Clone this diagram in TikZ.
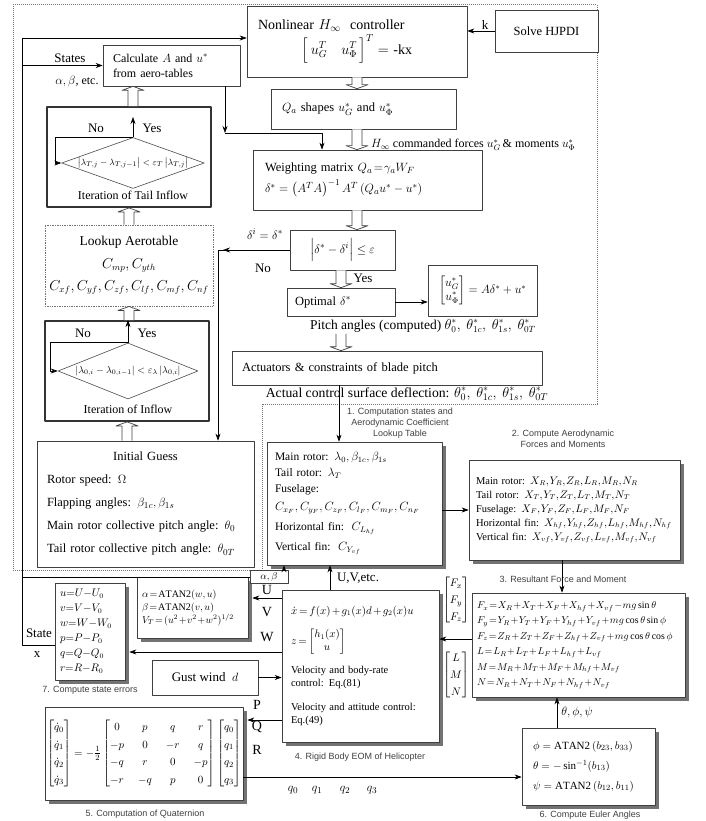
\documentclass[tikz,border=0pt]{standalone}
\usepackage{amsmath,amssymb}
\usepackage{fontspec}
\setmainfont{Liberation Serif}
\setsansfont{Liberation Sans}
\usepackage{tikz}
\usetikzlibrary{arrows.meta,calc,shapes.geometric,shadows}

\begin{document}
\begin{tikzpicture}[x=1pt,y=-1pt,>={Stealth[length=7pt,width=5pt]},line join=round,
  box/.style={draw=black!75,line width=0.7pt,fill=white,inner sep=0pt,font=\fontsize{12.5}{15}\selectfont},
  shbox/.style={box,drop shadow={shadow xshift=3.5pt,shadow yshift=-3.5pt,fill=black!55,opacity=1}},
  loopbox/.style={draw=black!80,line width=1.8pt,minimum width=164pt,minimum height=100pt},
  dia/.style={diamond,draw=black!70,line width=0.6pt,aspect=2.8,inner sep=0pt,font=\fontsize{9.5}{11}\selectfont},
  tag/.style={font=\sffamily\fontsize{9}{11}\selectfont,align=center,text=black!75,inner sep=1pt},
  lbl/.style={inner sep=1pt,font=\fontsize{13}{15}\selectfont},
  arr/.style={->,line width=0.6pt},
  holl/.style={line width=0.7pt,draw=black!75,fill=white,to path={let \p1=(\tikztostart),\p2=(\tikztotarget) in
    (\x1-5pt,\y1) -- (\x1-5pt,\y2 #1 4pt) -- (\x1-11pt,\y2 #1 4pt) -- (\x1,\y2) -- (\x1+11pt,\y2 #1 4pt) -- (\x1+5pt,\y2 #1 4pt) -- (\x1+5pt,\y1)}}]
  \useasboundingbox (0,0) rectangle (705,821);
  \draw[draw=black!55,densely dotted,line width=1pt] (13,5) -- (597,5) -- (597,404) -- (262,404) -- (262,570) -- (13,570) -- cycle;
  \coordinate (ST) at (22,38);
  \coordinate (SL) at (22,645);
  \coordinate (C1) at (225,133);
  \coordinate (C2) at (322,133);
  \coordinate (NO1) at (218,250);
  \coordinate (AC) at (339,0);
  \coordinate (UV) at (330,0);
  \coordinate (AB) at (284,0);
  \coordinate (RL) at (0,639);
  \coordinate (UVW) at (0,598);
  \coordinate (EY) at (0,652);
  \coordinate (PQ) at (0,720);
  \coordinate (QE) at (0,777);
  \coordinate (R3) at (562,0);
  \coordinate (EU) at (557,0);
  \coordinate (YT) at (133,117);
  \coordinate (NT2) at (55,0);
  \coordinate (NM2) at (50,0);
  \node[box,minimum width=220pt,minimum height=71pt,text width=198pt,align=left,font=\fontsize{14}{16}\selectfont] (CTRL) at (357,41.5) {Nonlinear $H_\infty$\ \ controller\\[2pt]\makebox[198pt][c]{$\left[\rule[-9pt]{0pt}{24pt}\,u_G^{T}\quad u_\Phi^{T}\,\right]^{T}=$ -kx}};
  \node[box,minimum width=103pt,minimum height=42pt] (HJPDI) at (546.5,31) {Solve HJPDI};
  \node[box,minimum width=185pt,minimum height=40pt,text width=163pt,align=left] (QSHP) at (363.5,109) {$Q_a$\ shapes\ $u_G^{*}$ and\ $u_\Phi^{*}$};
  \node[lbl,anchor=west,font=\fontsize{12}{14}\selectfont] (CMD) at (370,145) {$H_\infty$\ commanded forces\ $u_G^{*}$\,\& moments\ $u_\Phi^{*}$};
  \node[box,minimum width=229pt,minimum height=60pt,text width=205pt,align=left] (WMAT) at (367.5,180) {Weighting matrix $Q_a\!=\!\gamma_a W_F$\\[4pt]$\delta^{*}=\left(A^{T}A\right)^{-1}A^{T}\left(Q_a u^{*}-u^{*}\right)$};
  \node[box,minimum width=105pt,minimum height=40pt,font=\fontsize{13}{15}\selectfont] (CONV) at (342.5,250) {$\Big|\delta^{*}-\delta^{i}\Big|\le\varepsilon$};
  \node[box,minimum width=108pt,minimum height=28pt,text width=92pt,align=left] (OPT) at (341,302) {Optimal $\delta^{*}$};
  \node[box,minimum width=109pt,minimum height=51pt,font=\fontsize{12}{14}\selectfont] (ALOC) at (482.5,290.5) {$\begin{bmatrix}u_G^{*}\\ u_\Phi^{*}\end{bmatrix}=A\delta^{*}+u^{*}$};
  \node[lbl,font=\fontsize{13.5}{16}\selectfont] (PITCH) at (423,326) {Pitch angles (computed) $\theta_0^{*},\ \theta_{1c}^{*},\ \theta_{1s}^{*},\ \theta_{0T}^{*}$};
  \node[box,minimum width=310pt,minimum height=34pt,text width=290pt,align=left] (ACT) at (387,368) {Actuators \& constraints of blade pitch};
  \node[lbl,font=\fontsize{13.7}{16}\selectfont] (DEFL) at (407,394) {Actual control surface deflection: $\theta_0^{*},\ \theta_{1c}^{*},\ \theta_{1s}^{*},\ \theta_{0T}^{*}$};
  \node[lbl] (KL) at (485,25) {k};
  \node[lbl] (DI) at (265,234) {$\delta^{i}=\delta^{*}$};
  \node[lbl] (NO) at (263,268) {No};
  \node[lbl] (YES) at (363,278) {Yes};
  \node[box,minimum width=137pt,minimum height=41pt,text width=117pt,align=left,font=\fontsize{12}{15}\selectfont] (CALC) at (171.5,65.5) {Calculate $A$ and $u^{*}$\\from aero-tables};
  \node[lbl] (STL) at (70,58) {States};
  \node[lbl,font=\fontsize{12}{14}\selectfont] (ABE) at (77,82) {$\alpha,\beta$, etc.};
  \node[box,loopbox] (LOOPT) at (129,157) {};
  \node[dia,minimum width=134pt,minimum height=48pt] (DT) at (133,163) {$\left|\lambda_{T,j}-\lambda_{T,j-1}\right|<\varepsilon_{T}\left|\lambda_{T,j}\right|$};
  \node[lbl,font=\fontsize{12}{14}\selectfont] (ITT) at (133,195) {Iteration of Tail Inflow};
  \node[lbl] (NOT) at (96,128) {No};
  \node[lbl] (YEST) at (152,128) {Yes};
  \node[box,densely dotted,draw=black!55,line width=0.9pt,minimum width=168pt,minimum height=81pt,align=center,font=\fontsize{13.5}{22.5}\selectfont] (LOOKUP) at (129,265.5) {Lookup Aerotable\\$C_{mp},C_{yth}$\\$C_{xf},C_{yf},C_{zf},C_{lf},C_{mf},C_{nf}$};
  \node[box,loopbox] (LOOPM) at (127,371) {};
  \node[dia,minimum width=140pt,minimum height=56pt,font=\fontsize{10}{12}\selectfont] (DM) at (128,371) {$\left|\lambda_{0,i}-\lambda_{0,i-1}\right|<\varepsilon_{\lambda}\left|\lambda_{0,i}\right|$};
  \node[lbl,font=\fontsize{12}{14}\selectfont] (ITM) at (128,409) {Iteration of Inflow};
  \node[lbl] (NOM) at (83,333) {No};
  \node[lbl] (YESM) at (147,333) {Yes};
  \node[box,minimum width=217pt,minimum height=126pt,text width=197pt,align=left,font=\fontsize{12.5}{23}\selectfont] (GUESS) at (145.5,504) {\makebox[197pt][c]{Initial Guess}\\Rotor speed: $\Omega$\\Flapping angles: $\beta_{1c},\beta_{1s}$\\Main rotor collective pitch angle: $\theta_0$\\Tail rotor collective pitch angle: $\theta_{0T}$};
  \node[tag] (T1) at (400,423) {1. Computation states and\\Aerodynamic Coefficient\\Lookup Table};
  \node[shbox,minimum width=175pt,minimum height=123pt,text width=159pt,align=left,font=\fontsize{11.5}{16}\selectfont] (AERO) at (354.5,503.5) {Main rotor: $\lambda_0,\beta_{1c},\beta_{1s}$\\Tail rotor: $\lambda_T$\\Fuselage:\\[2pt]$C_{x_F},C_{y_F},C_{z_F},C_{l_F},C_{m_F},C_{n_F}$\\[4pt]Horizontal fin:\ \ $C_{L_{hf}}$\\[4pt]Vertical fin:\ \ $C_{Y_{vf}}$};
  \node[tag] (T2) at (563,439) {2. Compute Aerodynamic\\Forces and Moments};
  \node[shbox,minimum width=211pt,minimum height=100pt,text width=197pt,align=left,font={\fontsize{10.5}{14}\selectfont\thinmuskip=1mu}] (FORCE) at (574.5,510) {Main rotor: $X_R,Y_R,Z_R,L_R,M_R,N_R$\\Tail rotor: $X_T,Y_T,Z_T,L_T,M_T,N_T$\\Fuselage: $X_F,Y_F,Z_F,L_F,M_F,N_F$\\Horizontal fin: $X_{hf},Y_{hf},Z_{hf},L_{hf},M_{hf},N_{hf}$\\Vertical fin: $X_{vf},Y_{vf},Z_{vf},L_{vf},M_{vf},N_{vf}$};
  \node[tag] (T3) at (563,579) {3. Resultant Force and Moment};
  \node[shbox,minimum width=213pt,minimum height=104pt,text width=203pt,align=left,font={\fontsize{9.8}{15.4}\selectfont\medmuskip=1mu\thickmuskip=1.5mu}] (RES) at (578.5,645) {$F_x=X_R+X_T+X_F+X_{hf}+X_{vf}-mg\sin\theta$\\$F_y=Y_R+Y_T+Y_F+Y_{hf}+Y_{vf}+mg\cos\theta\sin\phi$\\$F_z=Z_R+Z_T+Z_F+Z_{hf}+Z_{vf}+mg\cos\theta\cos\phi$\\$L=L_R+L_T+L_F+L_{hf}+L_{vf}$\\$M=M_R+M_T+M_F+M_{hf}+M_{vf}$\\$N=N_R+N_T+N_F+N_{hf}+N_{vf}$};
  \node[inner sep=0pt,font=\fontsize{11}{13}\selectfont] (VF) at (456,600) {$\renewcommand\arraystretch{1.3}\begin{bmatrix}F_x\\F_y\\F_z\end{bmatrix}$};
  \node[inner sep=0pt,font=\fontsize{11}{13}\selectfont] (VM) at (456,675) {$\renewcommand\arraystretch{1.3}\begin{bmatrix}L\\M\\N\end{bmatrix}$};
  \node[shbox,minimum width=157pt,minimum height=152pt,text width=139pt,align=left,font={\fontsize{10.5}{13.5}\selectfont\medmuskip=2mu\thickmuskip=3mu}] (RBD) at (360.5,666) {$\dot{x}=f(x)+g_1(x)d+g_2(x)u$\\[10pt]$z=\begin{bmatrix}h_1(x)\\u\end{bmatrix}$\\[10pt]Velocity and body-rate\\control: Eq.(81)\\[10pt]Velocity and attitude control:\\Eq.(49)};
  \node[tag] (T4) at (360,757) {4. Rigid Body EOM of Helicopter};
  \node[lbl] (UVE) at (358,578) {U,V,etc.};
  \node[shbox,minimum width=111pt,minimum height=61pt,text width=101pt,align=left,font={\fontsize{10}{13}\selectfont\medmuskip=1mu\thickmuskip=2mu}] (ALPHA) at (192.5,607.5) {$\alpha=\mathrm{ATAN2}(w,u)$\\$\beta=\mathrm{ATAN2}(v,u)$\\$V_T=(u^2+v^2+w^2)^{1/2}$};
  \node[box,minimum width=38pt,inner sep=2pt,font=\fontsize{10}{12}\selectfont] (ABL) at (269,577) {$\alpha,\beta$};
  \node[shbox,minimum width=70pt,minimum height=97pt,text width=60pt,align=left,font={\fontsize{10.5}{15}\selectfont\medmuskip=0mu\thickmuskip=0mu}] (ERR) at (90,631.5) {$u=U-U_0$\\$v=V-V_0$\\$w=W-W_0$\\$p=P-P_0$\\$q=Q-Q_0$\\$r=R-R_0$};
  \node[tag] (T7) at (90,690) {7. Compute state errors};
  \node[lbl] (STX) at (39,633) {State};
  \node[lbl] (XL) at (37,655) {x};
  \node[box,minimum width=106pt,minimum height=35pt,font=\fontsize{13}{15}\selectfont] (GUST) at (205,677.5) {Gust wind\ \ $d$};
  \node[shbox,minimum width=198pt,minimum height=93pt,font=\fontsize{11}{13}\selectfont] (QUAT) at (144,753.5) {$\setlength\arraycolsep{7pt}\renewcommand\arraystretch{1.35}\begin{bmatrix}\dot q_0\\\dot q_1\\\dot q_2\\\dot q_3\end{bmatrix}=-\tfrac{1}{2}\begin{bmatrix}0&p&q&r\\-p&0&-r&q\\-q&r&0&-p\\-r&-q&p&0\end{bmatrix}\begin{bmatrix}q_0\\q_1\\q_2\\q_3\end{bmatrix}$};
  \node[tag] (T5) at (145,814) {5. Computation of Quaternion};
  \node[shbox,minimum width=133pt,minimum height=77pt,text width=111pt,align=left,font=\fontsize{11}{20}\selectfont] (EUL) at (588.5,766.5) {$\phi=\mathrm{ATAN2}\,(b_{23},b_{33})$\\$\theta=-\sin^{-1}(b_{13})$\\$\psi=\mathrm{ATAN2}\,(b_{12},b_{11})$};
  \node[tag] (T6) at (590,815) {6. Compute Euler Angles};
  \node[lbl] (EA) at (577,712) {$\theta,\phi,\psi$};
  \foreach \n/\t/\yy in {LU/U/590,LV/V/612,LW/W/637}
    \node[lbl,font=\fontsize{14}{16}\selectfont] (\n) at (267,\yy) {\t};
  \foreach \n/\t/\yy in {LP/P/705,LQ/Q/727,LR/R/750}
    \node[lbl,font=\fontsize{14}{16}\selectfont] (\n) at (257,\yy) {\t};
  \foreach \i/\qx in {0/293,1/317,2/345,3/372}
    \node[lbl] (Q\i) at (\qx,790) {$q_\i$};
  \draw[holl=+] (CTRL.south) to (QSHP.north -| CTRL.south);
  \draw[holl=+] (QSHP.south -| CTRL.south) to (WMAT.north -| CTRL.south);
  \draw[holl=+] (WMAT.south -| CTRL.south) to (CONV.north -| CTRL.south);
  \draw[holl=+] (CONV.south -| OPT.north) to (OPT.north);
  \draw[holl=+] (PITCH.south -| OPT.north) to (ACT.north -| OPT.north);
  \draw[holl=-] (LOOPT.north -| DT.north) to (CALC.south -| DT.north);
  \draw[holl=-] (LOOKUP.north) to (LOOPT.south -| LOOKUP.north);
  \draw[holl=-] (LOOPM.north -| LOOKUP.north) to (LOOKUP.south);
  \draw[holl=-] (GUESS.north -| LOOPM.south) to (LOOPM.south);
  \draw[arr] (ERR.west |- SL) -- (SL) |- (CTRL.west |- ST);
  \draw[arr] (ST |- CALC.west) -- (CALC.west);
  \draw[line width=0.6pt] (ST |- ABL) -- (ABL.west);
  \draw[arr] (ABL.north -| AB) -- (AERO.south -| AB);
  \draw[arr] (CALC.south -| C1) -- (C1);
  \draw[arr] (C1) -- (C2) -- (C2 |- WMAT.north);
  \draw[arr] (HJPDI.west) -- (HJPDI.west -| CTRL.east);
  \draw[arr] (CONV.west) -| (NO1 |- GUESS.north);
  \draw[arr] (CONV.west) -- ([xshift=5pt]NO1);
  \draw[arr] (OPT.east) -- (OPT.east -| ALOC.west);
  \draw[arr] (DT.north) -- (YT);
  \draw[arr] (DT.north) -- (DT.north -| NT2) |- (DT.west);
  \draw[arr] (DM.north) -- (DM.north |- LOOPM.north);
  \draw[arr] (DM.north) -- (DM.north -| NM2) |- (DM.west);
  \draw[arr] (ACT.south -| AC) -- (AERO.north -| AC);
  \draw[arr] (AERO.east |- FORCE.west) -- (FORCE.west);
  \draw[arr] (FORCE.south -| R3) -- (RES.north -| R3);
  \draw[arr] (RES.west |- RL) -- (RBD.east |- RL);
  \draw[arr] (RBD.north -| UV) -- (AERO.south -| UV);
  \draw[arr] (RBD.west |- UVW) -- ([xshift=4pt]ALPHA.east |- UVW);
  \draw[arr] (RBD.west |- EY) -- ([xshift=4pt]ERR.east |- EY);
  \draw[arr] (GUST.east) -- (GUST.east -| RBD.west);
  \draw[arr] (RBD.west |- PQ) -- ([xshift=4pt]QUAT.east |- PQ);
  \draw[arr] (QUAT.east |- QE) -- (EUL.west |- QE);
  \draw[arr] (EUL.north -| EU) -- (RES.south -| EU);
\end{tikzpicture}
\end{document}
